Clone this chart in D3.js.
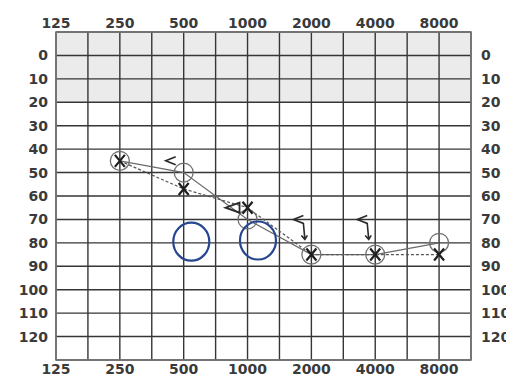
<!DOCTYPE html>
<html>
<head>
<meta charset="utf-8">
<script src="https://cdn.jsdelivr.net/npm/d3@7"></script>
<style>
  html, body { margin: 0; padding: 0; background: #fff; }
  svg { display: block; }
  .lbl { font-family: "DejaVu Sans", sans-serif; font-weight: bold; font-size: 14px; fill: #3a3a3a; }
</style>
</head>
<body>
<svg id="chart" width="506" height="378"></svg>
<script>
// ── data ─────────────────────────────────────────────────
const freqLabels = [125, 250, 500, 1000, 2000, 4000, 8000];
const dbLabels   = [0, 10, 20, 30, 40, 50, 60, 70, 80, 90, 100, 110, 120];

// right ear air conduction (O)
const rightFreq = [250, 500, 1000, 2000, 4000, 8000];
const rightDb   = [45, 50, 70, 85, 85, 80];

// left ear air conduction (X)
const leftFreq = [250, 500, 1000, 2000, 4000, 8000];
const leftDb   = [45, 57, 65, 85, 85, 85];

// bone conduction (<), arrow = no response
const boneFreq = [500, 2000, 4000];
const boneDb   = [45, 70, 70];
const boneNR   = [false, true, true];

// masked symbol (triangle) beside the X at 1000
const maskFreq = [1000];
const maskDb   = [65];

// blue hand-drawn rings
const ringFreq = [543, 1120];
const ringDb   = [79.5, 79];

// ── scales ───────────────────────────────────────────────
const svg = d3.select('#chart');
const x = d3.scaleLog().base(2).domain([125, 125 * Math.pow(2, 6.5)]).range([56, 471]);
const y = d3.scaleLinear().domain([-10, 130]).range([32, 360]);

const halfOctaves = d3.range(0, 14).map(k => 125 * Math.pow(2, k / 2));
const dbLines = d3.range(-10, 131, 10);

// shaded normal-hearing band
svg.append('rect')
  .attr('x', x.range()[0]).attr('y', y(-10))
  .attr('width', x.range()[1] - x.range()[0])
  .attr('height', y(20) - y(-10))
  .attr('fill', '#ebebeb');

// grid
const grid = svg.append('g');
grid.selectAll('.v').data(halfOctaves).join('line')
  .attr('x1', d => x(d)).attr('x2', d => x(d))
  .attr('y1', y(-10)).attr('y2', y(130))
  .attr('stroke', '#363636').attr('stroke-width', 1.4);
grid.selectAll('.h').data(dbLines).join('line')
  .attr('x1', x.range()[0]).attr('x2', x.range()[1])
  .attr('y1', d => y(d)).attr('y2', d => y(d))
  .attr('stroke', '#363636').attr('stroke-width', 1.4);
svg.append('rect')
  .attr('x', x.range()[0]).attr('y', y(-10))
  .attr('width', x.range()[1] - x.range()[0]).attr('height', y(130) - y(-10))
  .attr('fill', 'none').attr('stroke', '#777').attr('stroke-width', 1.6);

// axis labels (top, bottom, left, right)
[23, 369].forEach(ty => {
  svg.selectAll(null).data(freqLabels).join('text')
    .attr('class', 'lbl')
    .attr('x', d => x(d)).attr('y', ty)
    .attr('text-anchor', 'middle').attr('dominant-baseline', 'central')
    .text(d => d);
});
svg.selectAll(null).data(dbLabels).join('text')
  .attr('class', 'lbl')
  .attr('x', 48).attr('y', d => y(d))
  .attr('text-anchor', 'end').attr('dominant-baseline', 'central')
  .text(d => d);
svg.selectAll(null).data(dbLabels).join('text')
  .attr('class', 'lbl')
  .attr('x', 481).attr('y', d => y(d))
  .attr('text-anchor', 'start').attr('dominant-baseline', 'central')
  .text(d => d);

// ── connecting lines ─────────────────────────────────────
const toPts = (fs, ds) => fs.map((f, i) => [x(f), y(ds[i])]);
const line = d3.line();

svg.append('path')
  .attr('d', line(toPts(rightFreq, rightDb)))
  .attr('fill', 'none').attr('stroke', '#6a6a6a').attr('stroke-width', 1.2);
svg.append('path')
  .attr('d', line(toPts(leftFreq, leftDb)))
  .attr('fill', 'none').attr('stroke', '#555').attr('stroke-width', 1.2)
  .attr('stroke-dasharray', '3,2');

// ── markers ──────────────────────────────────────────────
svg.selectAll('.o').data(rightFreq).join('circle')
  .attr('cx', d => x(d)).attr('cy', (d, i) => y(rightDb[i]))
  .attr('r', 9.5)
  .attr('fill', 'none').attr('stroke', '#707070').attr('stroke-width', 1.3);

leftFreq.forEach((f, i) => {
  const cx = x(f), cy = y(leftDb[i]);
  svg.append('path')
    .attr('d', `M${cx - 5},${cy - 6}L${cx + 5},${cy + 6}M${cx + 5},${cy - 6}L${cx - 5},${cy + 6}`)
    .attr('stroke', '#1e1e1e').attr('stroke-width', 2.2).attr('fill', 'none');
});

boneFreq.forEach((f, i) => {
  const tx = x(f) - 8, cy = y(boneDb[i]);
  let d = `M${tx},${cy - 4}L${tx - 10},${cy}L${tx},${cy + 4}`;
  if (boneNR[i]) {
    d += `L${tx + 1.5},${cy + 20}M${tx - 2},${cy + 16}L${tx + 1.5},${cy + 20}L${tx + 4},${cy + 16}`;
  }
  svg.append('path')
    .attr('d', d)
    .attr('fill', 'none').attr('stroke', '#2a2a2a').attr('stroke-width', 1.6);
});

maskFreq.forEach((f, i) => {
  const tx = x(f) - 8, cy = y(maskDb[i]);
  svg.append('path')
    .attr('d', `M${tx},${cy - 5}L${tx - 14},${cy}L${tx},${cy + 5}Z`)
    .attr('fill', 'none').attr('stroke', '#2a2a2a').attr('stroke-width', 1.8);
});

// blue rings
svg.selectAll('.ring').data(ringFreq).join('ellipse')
  .attr('cx', d => x(d)).attr('cy', (d, i) => y(ringDb[i]))
  .attr('rx', 18).attr('ry', 19)
  .attr('fill', 'none').attr('stroke', '#26478f').attr('stroke-width', 2.2);
</script>
</body>
</html>
